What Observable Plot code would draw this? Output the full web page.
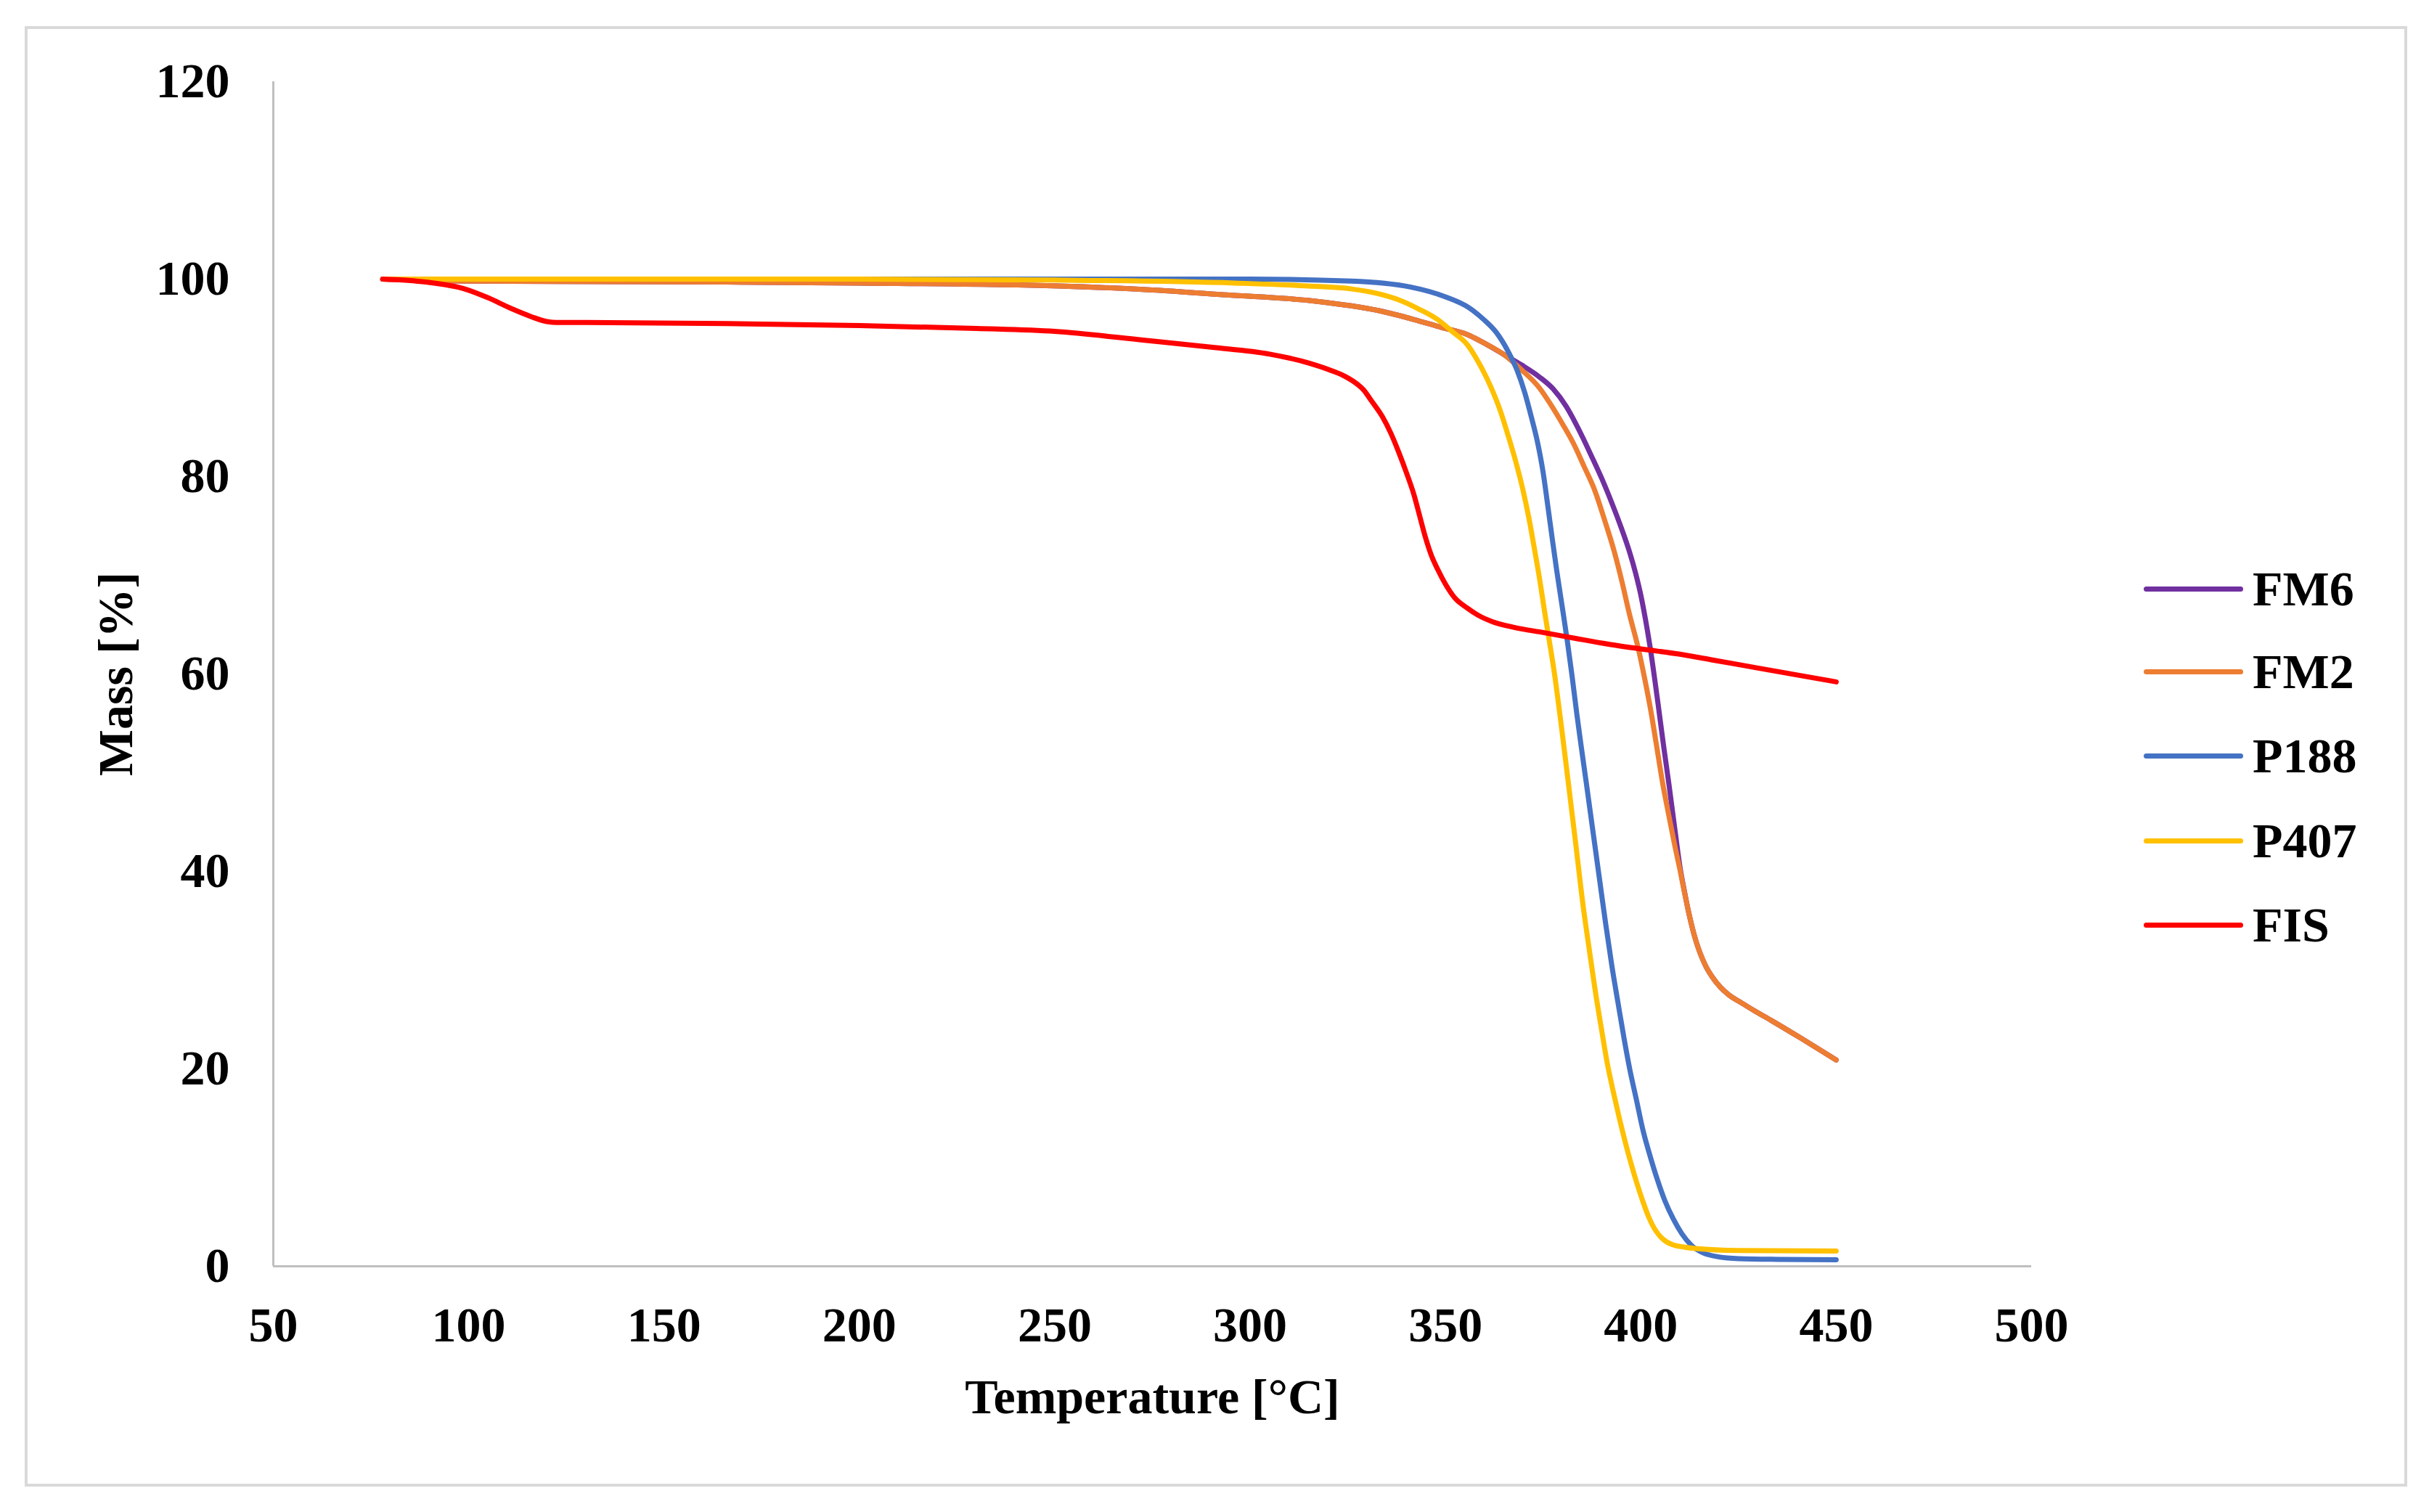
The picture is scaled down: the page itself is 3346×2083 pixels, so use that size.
<!DOCTYPE html>
<html>
<head>
<meta charset="utf-8">
<script src="https://cdn.jsdelivr.net/npm/d3@7"></script>
<script src="https://cdn.jsdelivr.net/npm/@observablehq/plot@0.6"></script>
<style>
html, body { margin: 0; padding: 0; background: #fff; }
#wrap { position: relative; width: 3346px; height: 2083px; overflow: hidden; background: #fff; }
#frame { position: absolute; left: 34px; top: 36px; width: 3282px; height: 2012px; border: 4px solid #d9d9d9; box-sizing: border-box; }
#chart { position: absolute; left: 0; top: 0; }
.item { position: absolute; left: 2953px; height: 68px; display: flex; align-items: center; }
.item .sw { width: 137px; height: 7px; border-radius: 3.5px; margin-right: 13px; }
.item .lb { font-family: "Liberation Serif", "Times New Roman", serif; font-weight: bold; font-size: 68px; line-height: 68px; color: #000; }
</style>
</head>
<body>
<div id="wrap">
  <div id="frame"></div>
  <div id="chart"></div>
  <div id="legend"></div>
</div>
<script>
// ---- data ----
const seriesNames = ["FM6", "FM2", "P188", "P407", "FIS"];
const seriesColors = ["#7030a0", "#ed7d31", "#4472c4", "#ffc000", "#ff0000"];

const xTicks = [50, 100, 150, 200, 250, 300, 350, 400, 450, 500];
const yTicks = [0, 20, 40, 60, 80, 100, 120];
const xTitle = "Temperature [°C]";
const yTitle = "Mass [%]";

const fm6T = [78, 100, 166, 200, 251, 275, 294, 316, 333, 342, 349, 355.5, 360, 364.8, 369.5, 374, 377.5, 380.9, 383.3, 385.2, 387.1, 390, 392.6, 395, 397, 398.6, 400.1, 401.2, 402.3, 404.4, 405.8, 407.2, 408.7, 410, 411.2, 412.5, 413.7, 415, 416.5, 418.3, 420.3, 422.5, 425.7, 429, 433.4, 441, 450];
const fm6M = [100, 99.8, 99.7, 99.6, 99.3, 98.9, 98.4, 97.8, 96.8, 95.9, 95.1, 94.4, 93.5, 92.4, 91.3, 90.1, 88.9, 87.1, 85.4, 83.9, 82.3, 79.8, 77.3, 74.8, 72.5, 70.3, 67.8, 65.5, 62.9, 57.0, 52.8, 48.8, 44.3, 40.5, 37.9, 35.4, 33.5, 31.9, 30.5, 29.3, 28.3, 27.5, 26.7, 25.9, 24.9, 23.1, 20.9];

const fm2T = [78, 100, 166, 200, 251, 275, 294, 316, 333, 342, 349, 355.5, 360, 364.8, 369.5, 374, 377.1, 380, 382.7, 385.5, 388.3, 390.8, 393.2, 395.2, 397, 399.4, 401, 402.5, 404, 405.6, 407.2, 408.7, 410, 411.2, 412.5, 413.7, 415, 416.5, 418.3, 420.3, 422.5, 425.7, 429, 433.4, 441, 450];
const fm2M = [100, 99.8, 99.7, 99.6, 99.3, 98.9, 98.4, 97.8, 96.8, 95.9, 95.1, 94.4, 93.5, 92.4, 90.8, 89.0, 87.2, 85.3, 83.4, 81.0, 78.5, 75.5, 72.4, 69.3, 66.2, 62.5, 59.5, 56.4, 52.8, 48.9, 45.6, 42.6, 40.2, 37.8, 35.4, 33.5, 31.9, 30.5, 29.3, 28.3, 27.5, 26.7, 25.9, 24.9, 23.1, 20.9];

const p188T = [78, 150, 250, 300, 326, 341, 350, 356, 359.8, 363, 366, 368.3, 370.3, 372, 373.6, 375, 376.2, 377.4, 378.5, 380, 381.2, 382.4, 383.6, 384.9, 386.1, 387.8, 389.5, 391, 392.6, 394.2, 395.7, 397.2, 398.8, 400.6, 402.5, 404.3, 406.2, 408.3, 410.5, 413, 416, 420, 425, 435, 450];
const p188M = [100, 100, 100, 100, 99.8, 99.2, 98.2, 97.1, 95.9, 94.6, 92.7, 90.8, 88.5, 86.0, 83.4, 80.4, 77.0, 73.5, 70.4, 66.5, 63.3, 59.8, 56.0, 52.2, 48.8, 43.9, 39.0, 34.7, 30.4, 26.6, 23.1, 19.9, 17.0, 13.7, 11.0, 8.7, 6.6, 4.8, 3.3, 2.1, 1.35, 0.95, 0.78, 0.7, 0.66];

const p407T = [78, 150, 200, 250, 296, 315, 326, 333, 338, 343, 348, 352, 355.5, 358.7, 361.7, 364, 366, 368, 369.8, 371.4, 372.8, 374.1, 375.3, 376.6, 377.8, 379.7, 381.5, 383.4, 385.2, 386.8, 388.3, 389.9, 391.4, 393, 394.5, 396, 397.5, 399, 400.5, 402, 403.5, 405, 406.5, 408, 411, 414, 425, 450];
const p407M = [100, 100, 100, 99.9, 99.6, 99.3, 99.0, 98.5, 97.9, 97.0, 95.9, 94.6, 93.4, 91.4, 89.0, 86.7, 84.2, 81.5, 78.7, 75.7, 72.6, 69.6, 66.5, 63.3, 60.3, 54.6, 48.8, 42.6, 36.6, 32.1, 28.0, 24.1, 20.6, 17.6, 15.0, 12.6, 10.4, 8.4, 6.6, 5.0, 3.8, 3.0, 2.5, 2.2, 1.95, 1.8, 1.6, 1.55];

const fisT = [78, 89, 99, 105, 111, 116, 120, 123, 130, 166, 200, 230, 250, 273, 290, 305, 315, 321, 324.5, 327.6, 329, 331, 333.8, 336, 338.1, 340, 341.9, 343.4, 344.9, 346.4, 348, 350, 352.4, 355.5, 358.6, 362, 367.8, 375, 383.3, 392, 400.7, 410, 418.6, 430, 440, 450];
const fisM = [100, 99.7, 99.0, 98.1, 97.0, 96.2, 95.7, 95.6, 95.6, 95.5, 95.3, 95.0, 94.7, 93.8, 93.1, 92.4, 91.5, 90.7, 90.1, 89.3, 88.8, 87.7, 86.1, 84.4, 82.4, 80.4, 78.2, 76.0, 73.8, 72.0, 70.6, 69.1, 67.7, 66.7, 65.9, 65.3, 64.7, 64.2, 63.6, 63.0, 62.5, 62.0, 61.4, 60.6, 59.9, 59.2];

const seriesT = [fm6T, fm2T, p188T, p407T, fisT];
const seriesM = [fm6M, fm2M, p188M, p407M, fisM];

// ---- build table ----
const rows = seriesNames.flatMap((name, k) =>
  seriesT[k].map((t, i) => ({series: name, T: t, M: seriesM[k][i]}))
);

const font = "Liberation Serif, Times New Roman, serif";

const chart = Plot.plot({
  width: 3346,
  height: 2083,
  marginLeft: 376,
  marginRight: 548,
  marginTop: 112,
  marginBottom: 339,
  x: {domain: [50, 500]},
  y: {domain: [0, 120]},
  color: {domain: seriesNames, range: seriesColors},
  style: {fontFamily: font, fontWeight: "bold", fontSize: "68px", color: "#000", background: "transparent", overflow: "visible"},
  marks: [
    Plot.axisX({ticks: xTicks, tickSize: 0, tickPadding: 55, label: null, fontSize: 68, fontWeight: "bold", fontFamily: font, tickFormat: d => String(d)}),
    Plot.axisY({ticks: yTicks, tickSize: 0, tickPadding: 60, label: null, fontSize: 68, fontWeight: "bold", fontFamily: font, tickFormat: d => String(d)}),
    Plot.ruleY([0], {stroke: "#bfbfbf", strokeWidth: 3}),
    Plot.ruleX([50], {stroke: "#bfbfbf", strokeWidth: 3}),
    Plot.line(rows, {x: "T", y: "M", z: "series", stroke: "series", strokeWidth: 7, curve: "monotone-x", strokeLinecap: "round", strokeLinejoin: "round"}),
    Plot.text([xTitle], {text: d => d, frameAnchor: "bottom", lineAnchor: "middle", textAnchor: "middle", dy: 181, fontSize: 68, fontWeight: "bold", fontFamily: font, fill: "#000"}),
    Plot.text([yTitle], {text: d => d, frameAnchor: "left", lineAnchor: "middle", textAnchor: "middle", dx: -216, rotate: -90, fontSize: 68, fontWeight: "bold", fontFamily: font, fill: "#000"})
  ]
});
document.getElementById("chart").appendChild(chart);

// ---- legend ----
const legendCenters = [811, 925, 1041, 1158, 1274];
const legend = document.getElementById("legend");
seriesNames.forEach((name, i) => {
  const item = document.createElement("div");
  item.className = "item";
  item.style.top = (legendCenters[i] - 34) + "px";
  const sw = document.createElement("div");
  sw.className = "sw";
  sw.style.background = seriesColors[i];
  const lb = document.createElement("div");
  lb.className = "lb";
  lb.textContent = name;
  item.appendChild(sw);
  item.appendChild(lb);
  legend.appendChild(item);
});
</script>
</body>
</html>
